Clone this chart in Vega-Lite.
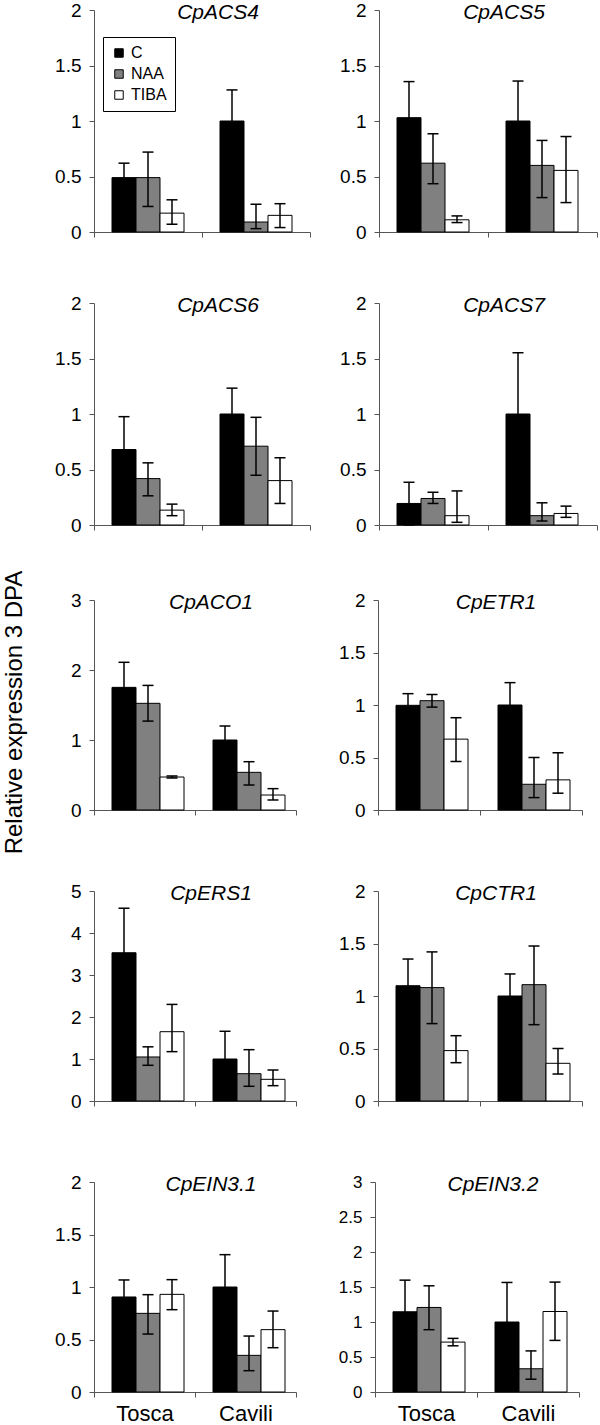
{
 "$schema": "https://vega.github.io/schema/vega-lite/v6.json",
 "padding": {"left": 2, "top": 1, "right": 0, "bottom": 0},
 "data": {"values": [
  {"gene":"CpACS4","cultivar":"Tosca","treatment":"C","mean":0.49,"lo":0.36,"hi":0.62},
  {"gene":"CpACS4","cultivar":"Tosca","treatment":"NAA","mean":0.49,"lo":0.23,"hi":0.72},
  {"gene":"CpACS4","cultivar":"Tosca","treatment":"TIBA","mean":0.17,"lo":0.07,"hi":0.29},
  {"gene":"CpACS4","cultivar":"Cavili","treatment":"C","mean":1.0,"lo":0.72,"hi":1.28},
  {"gene":"CpACS4","cultivar":"Cavili","treatment":"NAA","mean":0.09,"lo":0.03,"hi":0.25},
  {"gene":"CpACS4","cultivar":"Cavili","treatment":"TIBA","mean":0.15,"lo":0.04,"hi":0.255},
  {"gene":"CpACS5","cultivar":"Tosca","treatment":"C","mean":1.03,"lo":0.71,"hi":1.355},
  {"gene":"CpACS5","cultivar":"Tosca","treatment":"NAA","mean":0.62,"lo":0.435,"hi":0.885},
  {"gene":"CpACS5","cultivar":"Tosca","treatment":"TIBA","mean":0.11,"lo":0.085,"hi":0.145},
  {"gene":"CpACS5","cultivar":"Cavili","treatment":"C","mean":1.0,"lo":0.64,"hi":1.36},
  {"gene":"CpACS5","cultivar":"Cavili","treatment":"NAA","mean":0.6,"lo":0.31,"hi":0.825},
  {"gene":"CpACS5","cultivar":"Cavili","treatment":"TIBA","mean":0.555,"lo":0.265,"hi":0.86},
  {"gene":"CpACS6","cultivar":"Tosca","treatment":"C","mean":0.68,"lo":0.38,"hi":0.976},
  {"gene":"CpACS6","cultivar":"Tosca","treatment":"NAA","mean":0.418,"lo":0.263,"hi":0.56},
  {"gene":"CpACS6","cultivar":"Tosca","treatment":"TIBA","mean":0.134,"lo":0.084,"hi":0.188},
  {"gene":"CpACS6","cultivar":"Cavili","treatment":"C","mean":1.0,"lo":0.77,"hi":1.233},
  {"gene":"CpACS6","cultivar":"Cavili","treatment":"NAA","mean":0.71,"lo":0.448,"hi":0.97},
  {"gene":"CpACS6","cultivar":"Cavili","treatment":"TIBA","mean":0.4,"lo":0.194,"hi":0.606},
  {"gene":"CpACS7","cultivar":"Tosca","treatment":"C","mean":0.194,"lo":0.0,"hi":0.385},
  {"gene":"CpACS7","cultivar":"Tosca","treatment":"NAA","mean":0.239,"lo":0.194,"hi":0.295},
  {"gene":"CpACS7","cultivar":"Tosca","treatment":"TIBA","mean":0.084,"lo":0.024,"hi":0.307},
  {"gene":"CpACS7","cultivar":"Cavili","treatment":"C","mean":1.0,"lo":0.45,"hi":1.552},
  {"gene":"CpACS7","cultivar":"Cavili","treatment":"NAA","mean":0.084,"lo":0.036,"hi":0.2},
  {"gene":"CpACS7","cultivar":"Cavili","treatment":"TIBA","mean":0.104,"lo":0.069,"hi":0.17},
  {"gene":"CpACO1","cultivar":"Tosca","treatment":"C","mean":1.752,"lo":1.4,"hi":2.11},
  {"gene":"CpACO1","cultivar":"Tosca","treatment":"NAA","mean":1.524,"lo":1.27,"hi":1.78},
  {"gene":"CpACO1","cultivar":"Tosca","treatment":"TIBA","mean":0.471,"lo":0.457,"hi":0.486},
  {"gene":"CpACO1","cultivar":"Cavili","treatment":"C","mean":1.0,"lo":0.81,"hi":1.2},
  {"gene":"CpACO1","cultivar":"Cavili","treatment":"NAA","mean":0.538,"lo":0.357,"hi":0.69},
  {"gene":"CpACO1","cultivar":"Cavili","treatment":"TIBA","mean":0.214,"lo":0.143,"hi":0.305},
  {"gene":"CpETR1","cultivar":"Tosca","treatment":"C","mean":0.997,"lo":0.886,"hi":1.108},
  {"gene":"CpETR1","cultivar":"Tosca","treatment":"NAA","mean":1.041,"lo":0.98,"hi":1.1},
  {"gene":"CpETR1","cultivar":"Tosca","treatment":"TIBA","mean":0.675,"lo":0.462,"hi":0.879},
  {"gene":"CpETR1","cultivar":"Cavili","treatment":"C","mean":1.0,"lo":0.79,"hi":1.213},
  {"gene":"CpETR1","cultivar":"Cavili","treatment":"NAA","mean":0.245,"lo":0.118,"hi":0.5},
  {"gene":"CpETR1","cultivar":"Cavili","treatment":"TIBA","mean":0.287,"lo":0.16,"hi":0.545},
  {"gene":"CpERS1","cultivar":"Tosca","treatment":"C","mean":3.53,"lo":2.47,"hi":4.59},
  {"gene":"CpERS1","cultivar":"Tosca","treatment":"NAA","mean":1.048,"lo":0.85,"hi":1.29},
  {"gene":"CpERS1","cultivar":"Tosca","treatment":"TIBA","mean":1.65,"lo":1.175,"hi":2.3},
  {"gene":"CpERS1","cultivar":"Cavili","treatment":"C","mean":1.0,"lo":0.36,"hi":1.66},
  {"gene":"CpERS1","cultivar":"Cavili","treatment":"NAA","mean":0.65,"lo":0.35,"hi":1.222},
  {"gene":"CpERS1","cultivar":"Cavili","treatment":"TIBA","mean":0.516,"lo":0.365,"hi":0.738},
  {"gene":"CpCTR1","cultivar":"Tosca","treatment":"C","mean":1.098,"lo":0.845,"hi":1.352},
  {"gene":"CpCTR1","cultivar":"Tosca","treatment":"NAA","mean":1.08,"lo":0.737,"hi":1.42},
  {"gene":"CpCTR1","cultivar":"Tosca","treatment":"TIBA","mean":0.48,"lo":0.365,"hi":0.622},
  {"gene":"CpCTR1","cultivar":"Cavili","treatment":"C","mean":1.0,"lo":0.8,"hi":1.21},
  {"gene":"CpCTR1","cultivar":"Cavili","treatment":"NAA","mean":1.108,"lo":0.727,"hi":1.476},
  {"gene":"CpCTR1","cultivar":"Cavili","treatment":"TIBA","mean":0.359,"lo":0.257,"hi":0.5},
  {"gene":"CpEIN3.1","cultivar":"Tosca","treatment":"C","mean":0.905,"lo":0.74,"hi":1.067},
  {"gene":"CpEIN3.1","cultivar":"Tosca","treatment":"NAA","mean":0.749,"lo":0.552,"hi":0.927},
  {"gene":"CpEIN3.1","cultivar":"Tosca","treatment":"TIBA","mean":0.93,"lo":0.784,"hi":1.07},
  {"gene":"CpEIN3.1","cultivar":"Cavili","treatment":"C","mean":1.0,"lo":0.7,"hi":1.308},
  {"gene":"CpEIN3.1","cultivar":"Cavili","treatment":"NAA","mean":0.349,"lo":0.203,"hi":0.533},
  {"gene":"CpEIN3.1","cultivar":"Cavili","treatment":"TIBA","mean":0.594,"lo":0.422,"hi":0.771},
  {"gene":"CpEIN3.2","cultivar":"Tosca","treatment":"C","mean":1.146,"lo":0.69,"hi":1.598},
  {"gene":"CpEIN3.2","cultivar":"Tosca","treatment":"NAA","mean":1.208,"lo":0.89,"hi":1.517},
  {"gene":"CpEIN3.2","cultivar":"Tosca","treatment":"TIBA","mean":0.713,"lo":0.66,"hi":0.766},
  {"gene":"CpEIN3.2","cultivar":"Cavili","treatment":"C","mean":1.0,"lo":0.45,"hi":1.565},
  {"gene":"CpEIN3.2","cultivar":"Cavili","treatment":"NAA","mean":0.332,"lo":0.183,"hi":0.587},
  {"gene":"CpEIN3.2","cultivar":"Cavili","treatment":"TIBA","mean":1.15,"lo":0.737,"hi":1.57}
 ]},
 "title": {"text": "Relative expression 3 DPA", "orient": "left", "anchor": "middle", "fontSize": 24, "fontWeight": "normal", "fontStyle": "normal", "offset": 4, "dx": 0, "dy": 0, "baseline": "bottom", "frame": "bounds"},
 "config": {
  "font": "Liberation Sans",
  "view": {"stroke": null},
  "axis": {"grid": false, "domainColor": "#555", "tickColor": "#555", "labelColor": "black", "labelFont": "Liberation Sans", "labelFontSize": 19, "tickSize": 5, "labelPadding": 8, "domainWidth": 1, "tickWidth": 1, "labelOverlap": false},
  "axisX": {"labels": false, "tickBand": "extent", "labelAngle": 0},
  "title": {"fontSize": 21, "fontStyle": "italic", "fontWeight": "normal", "font": "Liberation Sans", "color": "black", "anchor": "middle", "frame": "group", "offset": 0, "dx": 16, "dy": 26, "baseline": "alphabetic"}
 },
 "spacing": 56,
 "resolve": {"scale": {"fill": "independent"}, "legend": {"fill": "independent"}},
 "vconcat": [
  {"spacing": 52, "resolve": {"scale": {"fill": "independent"}, "legend": {"fill": "independent"}},
   "vconcat": [
    {"spacing": 28, "resolve": {"scale": {"fill": "independent"}, "legend": {"fill": "independent"}},
     "hconcat": [
      {"width": 216, "height": 222, "transform": [{"filter": "datum.gene == 'CpACS4'"}], "title": {"text": "CpACS4"},
       "encoding": {"x": {"field": "cultivar", "type": "nominal", "sort": ["Tosca", "Cavili"], "title": null, "scale": {"paddingInner": 0, "paddingOuter": 0}},
                    "xOffset": {"field": "treatment", "type": "nominal", "sort": ["C", "NAA", "TIBA"], "scale": {"paddingInner": 0, "paddingOuter": 0.75}}},
       "layer": [
        {"mark": {"type": "bar", "stroke": "black", "strokeWidth": 1}, "encoding": {"y": {"field": "mean", "type": "quantitative", "title": null, "scale": {"domain": [0, 2]}, "axis": {"values": [0, 0.5, 1, 1.5, 2], "format": "~g"}},
          "fill": {"field": "treatment", "type": "nominal", "scale": {"domain": ["C", "NAA", "TIBA"], "range": ["#000000", "#808080", "#ffffff"]},
            "legend": {"title": null, "orient": "none", "legendX": 9, "legendY": 27, "symbolType": "square", "symbolSize": 72, "symbolStrokeColor": "black", "symbolStrokeWidth": 1, "labelFontSize": 16, "labelFont": "Liberation Sans", "labelColor": "black", "strokeColor": "black", "fillColor": "white", "padding": 8, "rowPadding": 5, "labelOffset": 4}}}},
        {"mark": {"type": "rule", "color": "black", "strokeWidth": 1.5}, "encoding": {"y": {"field": "lo", "type": "quantitative", "title": null, "scale": {"domain": [0, 2]}}, "y2": {"field": "hi"}}},
        {"mark": {"type": "tick", "color": "black", "thickness": 1.5, "size": 11, "opacity": 1}, "encoding": {"y": {"field": "lo", "type": "quantitative", "title": null, "scale": {"domain": [0, 2]}}}},
        {"mark": {"type": "tick", "color": "black", "thickness": 1.5, "size": 11, "opacity": 1}, "encoding": {"y": {"field": "hi", "type": "quantitative", "title": null, "scale": {"domain": [0, 2]}}}}
       ]},
      {"width": 218, "height": 222, "transform": [{"filter": "datum.gene == 'CpACS5'"}], "title": {"text": "CpACS5"},
       "encoding": {"x": {"field": "cultivar", "type": "nominal", "sort": ["Tosca", "Cavili"], "title": null, "scale": {"paddingInner": 0, "paddingOuter": 0}},
                    "xOffset": {"field": "treatment", "type": "nominal", "sort": ["C", "NAA", "TIBA"], "scale": {"paddingInner": 0, "paddingOuter": 0.75}}},
       "layer": [
        {"mark": {"type": "bar", "stroke": "black", "strokeWidth": 1}, "encoding": {"y": {"field": "mean", "type": "quantitative", "title": null, "scale": {"domain": [0, 2]}, "axis": {"values": [0, 0.5, 1, 1.5, 2], "format": "~g"}},
          "fill": {"field": "treatment", "type": "nominal", "scale": {"domain": ["C", "NAA", "TIBA"], "range": ["#000000", "#808080", "#ffffff"]}, "legend": null}}},
        {"mark": {"type": "rule", "color": "black", "strokeWidth": 1.5}, "encoding": {"y": {"field": "lo", "type": "quantitative", "title": null, "scale": {"domain": [0, 2]}}, "y2": {"field": "hi"}}},
        {"mark": {"type": "tick", "color": "black", "thickness": 1.5, "size": 11, "opacity": 1}, "encoding": {"y": {"field": "lo", "type": "quantitative", "title": null, "scale": {"domain": [0, 2]}}}},
        {"mark": {"type": "tick", "color": "black", "thickness": 1.5, "size": 11, "opacity": 1}, "encoding": {"y": {"field": "hi", "type": "quantitative", "title": null, "scale": {"domain": [0, 2]}}}}
       ]}
     ]},
    {"spacing": 28, "resolve": {"scale": {"fill": "independent"}, "legend": {"fill": "independent"}},
     "hconcat": [
      {"width": 216, "height": 222, "transform": [{"filter": "datum.gene == 'CpACS6'"}], "title": {"text": "CpACS6"},
       "encoding": {"x": {"field": "cultivar", "type": "nominal", "sort": ["Tosca", "Cavili"], "title": null, "scale": {"paddingInner": 0, "paddingOuter": 0}},
                    "xOffset": {"field": "treatment", "type": "nominal", "sort": ["C", "NAA", "TIBA"], "scale": {"paddingInner": 0, "paddingOuter": 0.75}}},
       "layer": [
        {"mark": {"type": "bar", "stroke": "black", "strokeWidth": 1}, "encoding": {"y": {"field": "mean", "type": "quantitative", "title": null, "scale": {"domain": [0, 2]}, "axis": {"values": [0, 0.5, 1, 1.5, 2], "format": "~g"}},
          "fill": {"field": "treatment", "type": "nominal", "scale": {"domain": ["C", "NAA", "TIBA"], "range": ["#000000", "#808080", "#ffffff"]}, "legend": null}}},
        {"mark": {"type": "rule", "color": "black", "strokeWidth": 1.5}, "encoding": {"y": {"field": "lo", "type": "quantitative", "title": null, "scale": {"domain": [0, 2]}}, "y2": {"field": "hi"}}},
        {"mark": {"type": "tick", "color": "black", "thickness": 1.5, "size": 11, "opacity": 1}, "encoding": {"y": {"field": "lo", "type": "quantitative", "title": null, "scale": {"domain": [0, 2]}}}},
        {"mark": {"type": "tick", "color": "black", "thickness": 1.5, "size": 11, "opacity": 1}, "encoding": {"y": {"field": "hi", "type": "quantitative", "title": null, "scale": {"domain": [0, 2]}}}}
       ]},
      {"width": 218, "height": 222, "transform": [{"filter": "datum.gene == 'CpACS7'"}], "title": {"text": "CpACS7"},
       "encoding": {"x": {"field": "cultivar", "type": "nominal", "sort": ["Tosca", "Cavili"], "title": null, "scale": {"paddingInner": 0, "paddingOuter": 0}},
                    "xOffset": {"field": "treatment", "type": "nominal", "sort": ["C", "NAA", "TIBA"], "scale": {"paddingInner": 0, "paddingOuter": 0.75}}},
       "layer": [
        {"mark": {"type": "bar", "stroke": "black", "strokeWidth": 1}, "encoding": {"y": {"field": "mean", "type": "quantitative", "title": null, "scale": {"domain": [0, 2]}, "axis": {"values": [0, 0.5, 1, 1.5, 2], "format": "~g"}},
          "fill": {"field": "treatment", "type": "nominal", "scale": {"domain": ["C", "NAA", "TIBA"], "range": ["#000000", "#808080", "#ffffff"]}, "legend": null}}},
        {"mark": {"type": "rule", "color": "black", "strokeWidth": 1.5}, "encoding": {"y": {"field": "lo", "type": "quantitative", "title": null, "scale": {"domain": [0, 2]}}, "y2": {"field": "hi"}}},
        {"mark": {"type": "tick", "color": "black", "thickness": 1.5, "size": 11, "opacity": 1}, "encoding": {"y": {"field": "lo", "type": "quantitative", "title": null, "scale": {"domain": [0, 2]}}}},
        {"mark": {"type": "tick", "color": "black", "thickness": 1.5, "size": 11, "opacity": 1}, "encoding": {"y": {"field": "hi", "type": "quantitative", "title": null, "scale": {"domain": [0, 2]}}}}
       ]}
     ]}
   ]},
  {"spacing": 62, "resolve": {"scale": {"fill": "independent"}, "legend": {"fill": "independent"}},
   "vconcat": [
    {"spacing": 41, "resolve": {"scale": {"fill": "independent"}, "legend": {"fill": "independent"}},
     "hconcat": [
      {"width": 202, "height": 210, "transform": [{"filter": "datum.gene == 'CpACO1'"}], "title": {"text": "CpACO1"},
       "encoding": {"x": {"field": "cultivar", "type": "nominal", "sort": ["Tosca", "Cavili"], "title": null, "scale": {"paddingInner": 0, "paddingOuter": 0}},
                    "xOffset": {"field": "treatment", "type": "nominal", "sort": ["C", "NAA", "TIBA"], "scale": {"paddingInner": 0, "paddingOuter": 0.75}}},
       "layer": [
        {"mark": {"type": "bar", "stroke": "black", "strokeWidth": 1}, "encoding": {"y": {"field": "mean", "type": "quantitative", "title": null, "scale": {"domain": [0, 3]}, "axis": {"values": [0, 1, 2, 3], "format": "~g"}},
          "fill": {"field": "treatment", "type": "nominal", "scale": {"domain": ["C", "NAA", "TIBA"], "range": ["#000000", "#808080", "#ffffff"]}, "legend": null}}},
        {"mark": {"type": "rule", "color": "black", "strokeWidth": 1.5}, "encoding": {"y": {"field": "lo", "type": "quantitative", "title": null, "scale": {"domain": [0, 3]}}, "y2": {"field": "hi"}}},
        {"mark": {"type": "tick", "color": "black", "thickness": 1.5, "size": 11, "opacity": 1}, "encoding": {"y": {"field": "lo", "type": "quantitative", "title": null, "scale": {"domain": [0, 3]}}}},
        {"mark": {"type": "tick", "color": "black", "thickness": 1.5, "size": 11, "opacity": 1}, "encoding": {"y": {"field": "hi", "type": "quantitative", "title": null, "scale": {"domain": [0, 3]}}}}
       ]},
      {"width": 204, "height": 210, "transform": [{"filter": "datum.gene == 'CpETR1'"}], "title": {"text": "CpETR1"},
       "encoding": {"x": {"field": "cultivar", "type": "nominal", "sort": ["Tosca", "Cavili"], "title": null, "scale": {"paddingInner": 0, "paddingOuter": 0}},
                    "xOffset": {"field": "treatment", "type": "nominal", "sort": ["C", "NAA", "TIBA"], "scale": {"paddingInner": 0, "paddingOuter": 0.75}}},
       "layer": [
        {"mark": {"type": "bar", "stroke": "black", "strokeWidth": 1}, "encoding": {"y": {"field": "mean", "type": "quantitative", "title": null, "scale": {"domain": [0, 2]}, "axis": {"values": [0, 0.5, 1, 1.5, 2], "format": "~g"}},
          "fill": {"field": "treatment", "type": "nominal", "scale": {"domain": ["C", "NAA", "TIBA"], "range": ["#000000", "#808080", "#ffffff"]}, "legend": null}}},
        {"mark": {"type": "rule", "color": "black", "strokeWidth": 1.5}, "encoding": {"y": {"field": "lo", "type": "quantitative", "title": null, "scale": {"domain": [0, 2]}}, "y2": {"field": "hi"}}},
        {"mark": {"type": "tick", "color": "black", "thickness": 1.5, "size": 11, "opacity": 1}, "encoding": {"y": {"field": "lo", "type": "quantitative", "title": null, "scale": {"domain": [0, 2]}}}},
        {"mark": {"type": "tick", "color": "black", "thickness": 1.5, "size": 11, "opacity": 1}, "encoding": {"y": {"field": "hi", "type": "quantitative", "title": null, "scale": {"domain": [0, 2]}}}}
       ]}
     ]},
    {"spacing": 41, "resolve": {"scale": {"fill": "independent"}, "legend": {"fill": "independent"}},
     "hconcat": [
      {"width": 202, "height": 210, "transform": [{"filter": "datum.gene == 'CpERS1'"}], "title": {"text": "CpERS1"},
       "encoding": {"x": {"field": "cultivar", "type": "nominal", "sort": ["Tosca", "Cavili"], "title": null, "scale": {"paddingInner": 0, "paddingOuter": 0}},
                    "xOffset": {"field": "treatment", "type": "nominal", "sort": ["C", "NAA", "TIBA"], "scale": {"paddingInner": 0, "paddingOuter": 0.75}}},
       "layer": [
        {"mark": {"type": "bar", "stroke": "black", "strokeWidth": 1}, "encoding": {"y": {"field": "mean", "type": "quantitative", "title": null, "scale": {"domain": [0, 5]}, "axis": {"values": [0, 1, 2, 3, 4, 5], "format": "~g"}},
          "fill": {"field": "treatment", "type": "nominal", "scale": {"domain": ["C", "NAA", "TIBA"], "range": ["#000000", "#808080", "#ffffff"]}, "legend": null}}},
        {"mark": {"type": "rule", "color": "black", "strokeWidth": 1.5}, "encoding": {"y": {"field": "lo", "type": "quantitative", "title": null, "scale": {"domain": [0, 5]}}, "y2": {"field": "hi"}}},
        {"mark": {"type": "tick", "color": "black", "thickness": 1.5, "size": 11, "opacity": 1}, "encoding": {"y": {"field": "lo", "type": "quantitative", "title": null, "scale": {"domain": [0, 5]}}}},
        {"mark": {"type": "tick", "color": "black", "thickness": 1.5, "size": 11, "opacity": 1}, "encoding": {"y": {"field": "hi", "type": "quantitative", "title": null, "scale": {"domain": [0, 5]}}}}
       ]},
      {"width": 204, "height": 210, "transform": [{"filter": "datum.gene == 'CpCTR1'"}], "title": {"text": "CpCTR1"},
       "encoding": {"x": {"field": "cultivar", "type": "nominal", "sort": ["Tosca", "Cavili"], "title": null, "scale": {"paddingInner": 0, "paddingOuter": 0}},
                    "xOffset": {"field": "treatment", "type": "nominal", "sort": ["C", "NAA", "TIBA"], "scale": {"paddingInner": 0, "paddingOuter": 0.75}}},
       "layer": [
        {"mark": {"type": "bar", "stroke": "black", "strokeWidth": 1}, "encoding": {"y": {"field": "mean", "type": "quantitative", "title": null, "scale": {"domain": [0, 2]}, "axis": {"values": [0, 0.5, 1, 1.5, 2], "format": "~g"}},
          "fill": {"field": "treatment", "type": "nominal", "scale": {"domain": ["C", "NAA", "TIBA"], "range": ["#000000", "#808080", "#ffffff"]}, "legend": null}}},
        {"mark": {"type": "rule", "color": "black", "strokeWidth": 1.5}, "encoding": {"y": {"field": "lo", "type": "quantitative", "title": null, "scale": {"domain": [0, 2]}}, "y2": {"field": "hi"}}},
        {"mark": {"type": "tick", "color": "black", "thickness": 1.5, "size": 11, "opacity": 1}, "encoding": {"y": {"field": "lo", "type": "quantitative", "title": null, "scale": {"domain": [0, 2]}}}},
        {"mark": {"type": "tick", "color": "black", "thickness": 1.5, "size": 11, "opacity": 1}, "encoding": {"y": {"field": "hi", "type": "quantitative", "title": null, "scale": {"domain": [0, 2]}}}}
       ]}
     ]},
    {"spacing": 41, "resolve": {"scale": {"fill": "independent"}, "legend": {"fill": "independent"}},
     "hconcat": [
      {"width": 202, "height": 210, "transform": [{"filter": "datum.gene == 'CpEIN3.1'"}], "title": {"text": "CpEIN3.1"},
       "encoding": {"x": {"field": "cultivar", "type": "nominal", "sort": ["Tosca", "Cavili"], "title": null, "scale": {"paddingInner": 0, "paddingOuter": 0}, "axis": {"labels": true, "labelFontSize": 22, "labelPadding": 6, "labelAngle": 0}},
                    "xOffset": {"field": "treatment", "type": "nominal", "sort": ["C", "NAA", "TIBA"], "scale": {"paddingInner": 0, "paddingOuter": 0.75}}},
       "layer": [
        {"mark": {"type": "bar", "stroke": "black", "strokeWidth": 1}, "encoding": {"y": {"field": "mean", "type": "quantitative", "title": null, "scale": {"domain": [0, 2]}, "axis": {"values": [0, 0.5, 1, 1.5, 2], "format": "~g"}},
          "fill": {"field": "treatment", "type": "nominal", "scale": {"domain": ["C", "NAA", "TIBA"], "range": ["#000000", "#808080", "#ffffff"]}, "legend": null}}},
        {"mark": {"type": "rule", "color": "black", "strokeWidth": 1.5}, "encoding": {"y": {"field": "lo", "type": "quantitative", "title": null, "scale": {"domain": [0, 2]}}, "y2": {"field": "hi"}}},
        {"mark": {"type": "tick", "color": "black", "thickness": 1.5, "size": 11, "opacity": 1}, "encoding": {"y": {"field": "lo", "type": "quantitative", "title": null, "scale": {"domain": [0, 2]}}}},
        {"mark": {"type": "tick", "color": "black", "thickness": 1.5, "size": 11, "opacity": 1}, "encoding": {"y": {"field": "hi", "type": "quantitative", "title": null, "scale": {"domain": [0, 2]}}}}
       ]},
      {"width": 204, "height": 210, "transform": [{"filter": "datum.gene == 'CpEIN3.2'"}], "title": {"text": "CpEIN3.2"},
       "encoding": {"x": {"field": "cultivar", "type": "nominal", "sort": ["Tosca", "Cavili"], "title": null, "scale": {"paddingInner": 0, "paddingOuter": 0}, "axis": {"labels": true, "labelFontSize": 22, "labelPadding": 6, "labelAngle": 0}},
                    "xOffset": {"field": "treatment", "type": "nominal", "sort": ["C", "NAA", "TIBA"], "scale": {"paddingInner": 0, "paddingOuter": 0.75}},
                    "y": {"field": "mean", "type": "quantitative", "title": null, "scale": {"domain": [0, 3]}, "axis": {"values": [0, 0.5, 1, 1.5, 2, 2.5, 3], "format": "~g", "labelOverlap": false, "labelSeparation": 0, "labelFontSize": 17}}},
       "layer": [
        {"mark": {"type": "bar", "stroke": "black", "strokeWidth": 1}, "encoding": {
          "fill": {"field": "treatment", "type": "nominal", "scale": {"domain": ["C", "NAA", "TIBA"], "range": ["#000000", "#808080", "#ffffff"]}, "legend": null}}},
        {"mark": {"type": "rule", "color": "black", "strokeWidth": 1.5}, "encoding": {"y": {"field": "lo", "type": "quantitative", "title": null, "scale": {"domain": [0, 3]}}, "y2": {"field": "hi"}}},
        {"mark": {"type": "tick", "color": "black", "thickness": 1.5, "size": 11, "opacity": 1}, "encoding": {"y": {"field": "lo", "type": "quantitative", "title": null, "scale": {"domain": [0, 3]}}}},
        {"mark": {"type": "tick", "color": "black", "thickness": 1.5, "size": 11, "opacity": 1}, "encoding": {"y": {"field": "hi", "type": "quantitative", "title": null, "scale": {"domain": [0, 3]}}}}
       ]}
     ]}
   ]}
 ]
}
